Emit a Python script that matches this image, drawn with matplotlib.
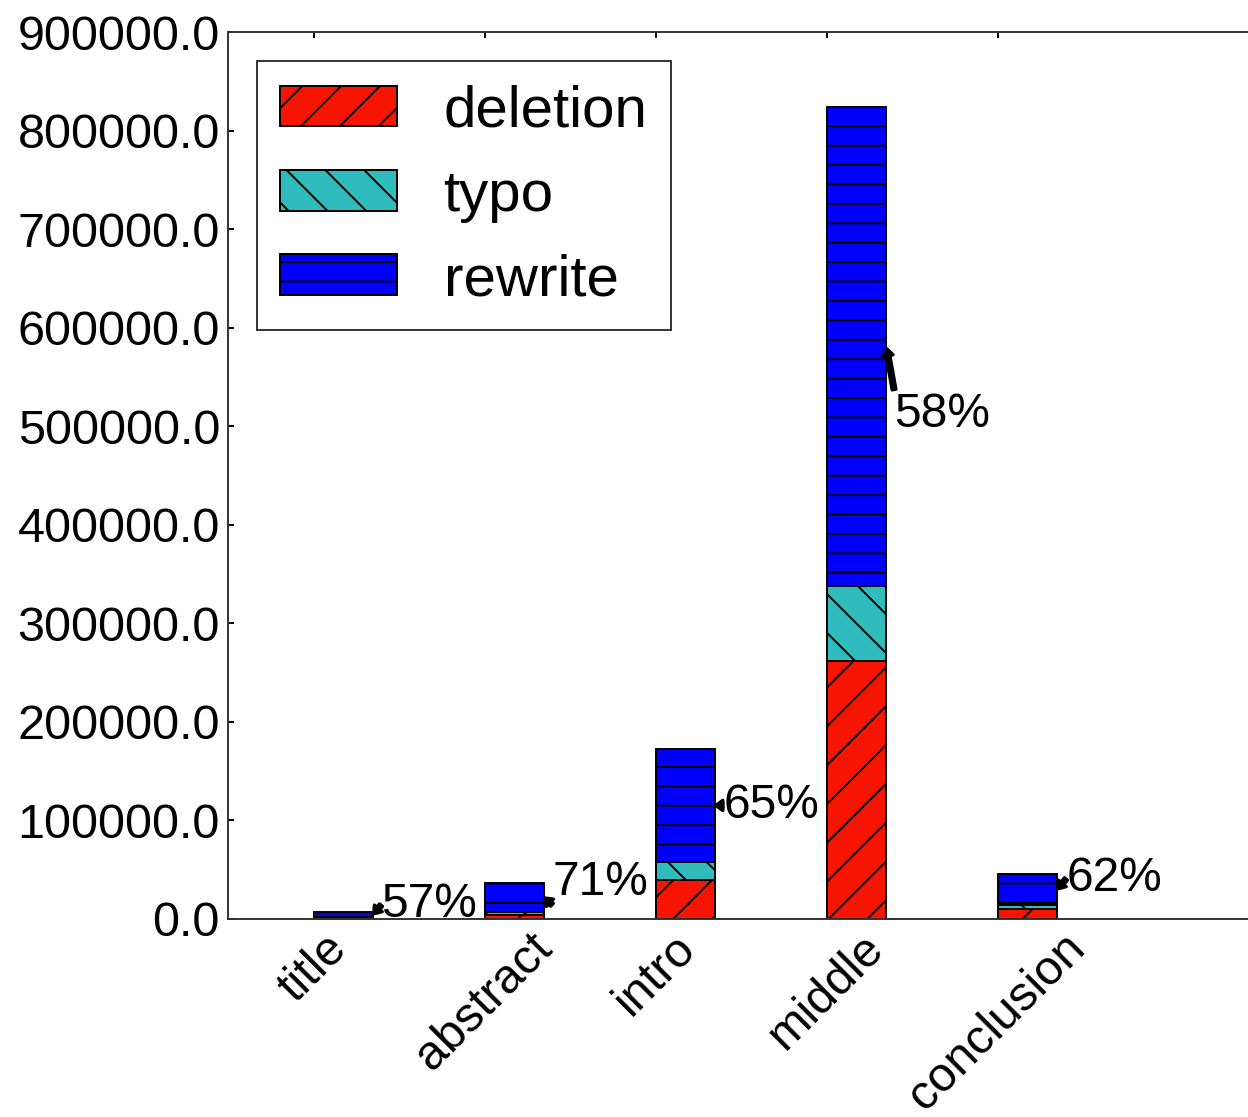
import numpy as np
import matplotlib
matplotlib.use('Agg')
from matplotlib import pyplot as plt
from matplotlib.ticker import FormatStrFormatter

plt.rcParams['font.family'] = ['Liberation Sans', 'DejaVu Sans']
plt.rcParams['hatch.linewidth'] = 0.6
plt.rcParams['hatch.color'] = 'black'

# edit counts per section
categories = ['title', 'abstract', 'intro', 'middle', 'conclusion']
deletion = [1500, 4000, 40000, 262000, 10000]
typo = [1000, 3000, 18000, 76000, 4500]
rewrite = [4500, 29500, 114500, 486000, 31000]
percent_labels = ['57%', '71%', '65%', '58%', '62%']
###

# text offsets (points) for the percentage labels
label_offsets = [(2.5, 3.0), (2.5, 4.6), (2.5, 0.0), (2.5, -21.0), (2.8, 3.4)]

dpi = 233
# hatch tiles are one inch wide, so this dpi sets the stripe spacing
fig = plt.figure(figsize=(1248 / dpi, 1117 / dpi), dpi=dpi)
ax = fig.add_axes([228 / 1248, 1 - 919 / 1117, (1254 - 228) / 1248, (919 - 32) / 1117])

ind = np.arange(len(categories))
width = 0.35
bottom_typo = np.array(deletion)
bottom_rewrite = bottom_typo + np.array(typo)

ax.bar(ind, deletion, width, align='edge', color='#f71400', edgecolor='k',
       linewidth=0.6, hatch='//', label='deletion')
ax.bar(ind, typo, width, bottom=bottom_typo, align='edge', color='#30bcbc',
       edgecolor='k', linewidth=0.6, hatch='\\\\', label='typo')
ax.bar(ind, rewrite, width, bottom=bottom_rewrite, align='edge', color='#0000ff',
       edgecolor='k', linewidth=0.6, hatch='--', label='rewrite')

# share of rewrites, arrow points at the middle of the rewrite block
for i in ind:
    tip_y = bottom_rewrite[i] + rewrite[i] / 2.0
    ax.annotate(percent_labels[i], xy=(i + width, tip_y), xytext=label_offsets[i],
                textcoords='offset points', ha='left', va='center', fontsize=14.8,
                arrowprops=dict(facecolor='black', edgecolor='black', width=1.2,
                                headwidth=3.2, headlength=2.2, shrink=0.05,
                                patchA=None))

ax.set_xlim(-0.5, 5.5)
ax.set_ylim(0, 900000)
ax.set_yticks(np.arange(0, 900001, 100000))
ax.yaxis.set_major_formatter(FormatStrFormatter('%.1f'))
ax.set_xticks(ind)
ax.set_xticklabels(categories, rotation=45, ha='center')

ax.tick_params(direction='in', top=True, right=True, length=2, width=0.6,
               labelsize=15, pad=2.5)
ax.tick_params(axis='x', pad=2.0)
for sp in ax.spines.values():
    sp.set_linewidth(0.6)
    sp.set_color('#333333')

leg = ax.legend(loc='upper left', fontsize=18, fancybox=False, framealpha=1,
                edgecolor='#333333', labelspacing=0.52, handlelength=2.0,
                handleheight=0.7, handletextpad=0.8)
leg.get_frame().set_linewidth(0.6)

fig.savefig('out.png', dpi=dpi)
